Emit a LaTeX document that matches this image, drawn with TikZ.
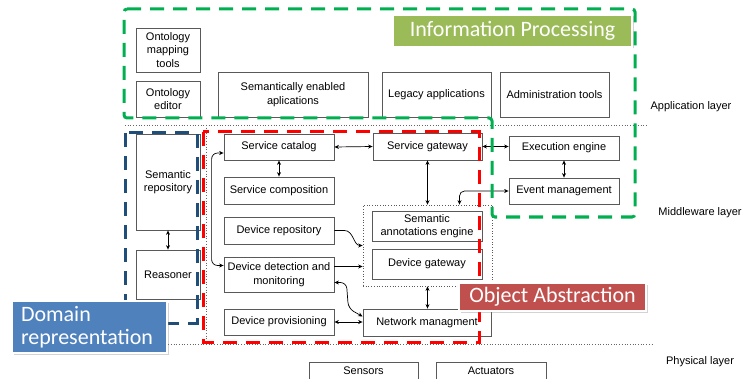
\documentclass[tikz,border=0pt]{standalone}
\usepackage{fontspec}
\setsansfont{Liberation Sans}
\newfontfamily\calloutfont{Carlito}
\usepackage{xcolor}
\usetikzlibrary{arrows.meta, positioning, calc, shadows}

\definecolor{ipgreen}{HTML}{00B050}
\definecolor{ipfill}{HTML}{9BBB59}
\definecolor{drblue}{HTML}{1F4E79}
\definecolor{drfill}{HTML}{4F81BD}
\definecolor{oafill}{HTML}{C0504D}

\begin{document}
\begin{tikzpicture}[x=1pt, y=-1pt,
    font=\sffamily\fontsize{11}{13.5}\selectfont,
    box/.style={draw=black!65, line width=0.8pt, fill=white, align=center, inner sep=1pt},
    group/.style={draw=black!65, dotted, line width=0.7pt},
    conn/.style={<->, >={Stealth[length=4.5pt, width=4pt]}, line width=0.7pt},
    layerline/.style={black!60, dotted, line width=0.7pt},
    region/.style={line width=3pt, dash pattern=on 14pt off 9pt},
    callout/.style={text=white, font=\calloutfont\fontsize{22}{23}\selectfont, draw=white, line width=1.5pt,
      drop shadow={shadow xshift=1.5pt, shadow yshift=-1.5pt, opacity=0.35}},
  ]
    \clip (0,0) rectangle (743,379);

    % Layers
    \draw[layerline] (125,125) -- (647,125);
    \draw[layerline] (125,344) -- (653,344);
    \draw[layerline] (206,125) -- (206,344);
    \node (applayer) at (691,107) {Application layer};
    \node (midlayer) at (700,213) {Middleware layer};
    \node (phylayer) at (700,362) {Physical layer};

    % Application layer
    \node[box, minimum width=64pt, minimum height=44pt] (ontmap) at (168,50) {Ontology\\mapping\\tools};
    \node[box, minimum width=64pt, minimum height=36pt] (onted) at (168,99) {Ontology\\editor};
    \node[box, minimum width=150pt, minimum height=45pt] (semapp) at (293,94.5) {Semantically enabled\\aplications};
    \node[box, minimum width=109pt, minimum height=45pt] (legacy) at (436.5,94.5) {Legacy applications};
    \node[box, minimum width=109pt, minimum height=45pt] (admin) at (554.5,94.5) {Administration tools};

    % Middleware layer
    \node[box, minimum width=64pt, minimum height=96pt] (semrepo) at (168,182) {Semantic\\repository};
    \node[box, minimum width=64pt, minimum height=49pt] (reasoner) at (168,274.5) {Reasoner};
    \node[box, minimum width=110pt, minimum height=26pt] (servcat) at (279,147) {Service catalog};
    \node[box, minimum width=110pt, minimum height=27pt] (servcomp) at (279,190.5) {Service composition};
    \node[box, minimum width=110pt, minimum height=27pt] (devrepo) at (279,230.5) {Device repository};
    \node[box, minimum width=110pt, minimum height=35pt] (devdet) at (279,274.5) {Device detection and\\monitoring};
    \node[box, minimum width=110pt, minimum height=26pt] (devprov) at (279,322) {Device provisioning};
    \node[box, minimum width=109pt, minimum height=27pt] (servgw) at (427.5,146.5) {Service gateway};
    \node[group, minimum width=129pt, minimum height=81pt] (gwgrp) at (427.5,245.5) {};
    \node[box, minimum width=110pt, minimum height=30pt] (semann) at (427,226) {Semantic\\annotations engine};
    \node[box, minimum width=110pt, minimum height=30pt] (devgw) at (427,264) {Device gateway};
    \node[box, minimum width=128pt, minimum height=27pt] (netman) at (427,322.5) {Network managment};
    \node[box, minimum width=110pt, minimum height=24pt] (exec) at (564,148) {Execution engine};
    \node[box, minimum width=110pt, minimum height=26pt] (event) at (564,191) {Event management};

    % Physical layer
    \node[box, minimum width=109pt, minimum height=18pt] (sensors) at (363.5,371) {Sensors};
    \node[box, minimum width=110pt, minimum height=18pt] (actuators) at (491,371) {Actuators};

    % Connections
    \draw[conn] (semrepo.south) -- (reasoner.north);
    \draw[conn] (servcat.east) -- (servgw.west);
    \draw[conn] (servcat.south) -- (servcomp.north);
    \draw[conn] (servgw.south) -- (gwgrp.north);
    \draw[conn] (servgw.east) -- (servgw.east -| exec.west);
    \draw[conn] (exec.south) -- (event.north);
    \draw[conn, rounded corners=5pt] (event.west) -| ([xshift=32pt]gwgrp.north);
    \draw[conn, rounded corners=6pt] ([yshift=-6pt]servcat.west) -- ++(-12,0) |- ([yshift=9pt]devdet.west);
    \draw[->, >={Stealth[length=4.5pt, width=4pt]}, line width=0.7pt] (devrepo.east) -- ++(10,0) to[out=0, in=180] (gwgrp.west);
    \draw[->, >={Stealth[length=4.5pt, width=4pt]}, line width=0.7pt] ([yshift=8pt]devdet.east) -- ([yshift=8pt]devdet.east -| gwgrp.west);
    \draw[conn, rounded corners=6pt] ([yshift=-8pt]devdet.east) -- ++(12,0) -- ++(2,26) -- ([yshift=6pt]netman.west);
    \draw[conn] (devprov.east) -- (devprov.east -| netman.west);
    \draw[conn] (gwgrp.south) -- (gwgrp.south |- netman.north);

    % Regions
    \draw[region, ipgreen, rounded corners=3pt] (124,9) -- (635,9) -- (635,217) -- (492,217) -- (492,118) -- (124,118) -- cycle;
    \draw[region, drblue] (125,133) rectangle (197,323);
    \draw[region, red] (203,132) rectangle (479,342);

    % Callouts
    \node[callout, fill=ipfill, minimum width=239pt, minimum height=32pt] (infoproc) at (512.5,31) {Information Processing};
    \node[callout, fill=drfill, minimum width=155pt, minimum height=52pt, text width=137pt, align=left, inner xsep=9pt] (domrep) at (89.5,327) {Domain\\representation};
    \node[callout, fill=oafill, minimum width=187pt, minimum height=28pt] (objabs) at (552.5,297) {Object Abstraction};
\end{tikzpicture}
\end{document}
